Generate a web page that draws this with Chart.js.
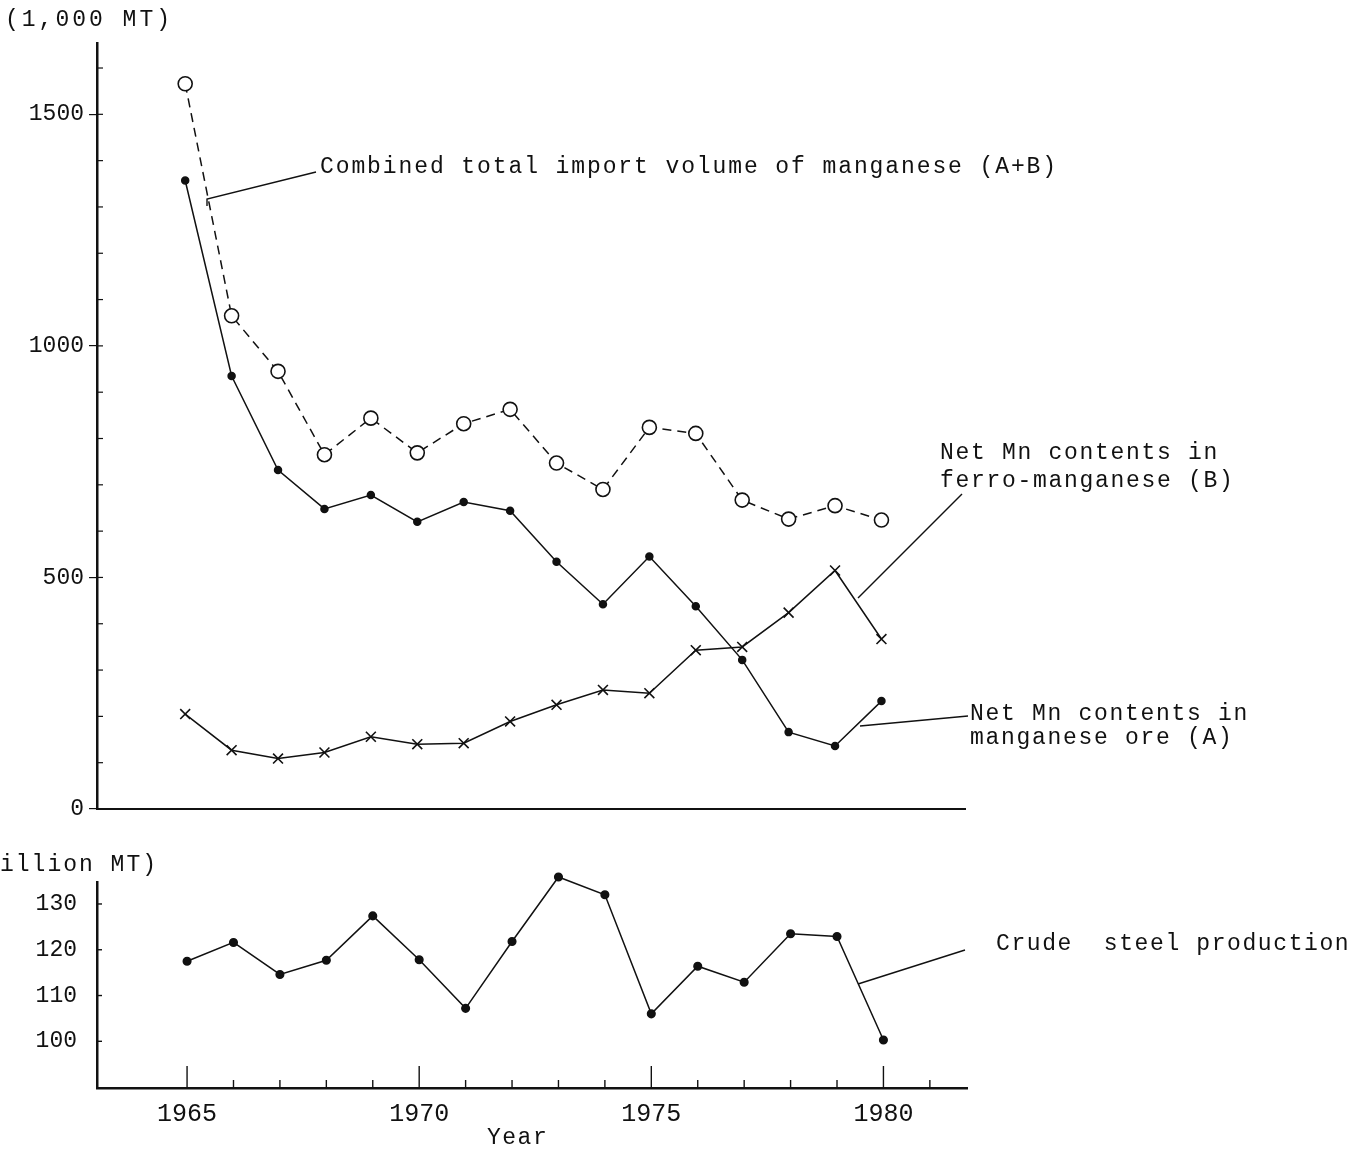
<!DOCTYPE html>
<html>
<head>
<meta charset="utf-8">
<script src="https://cdn.jsdelivr.net/npm/chart.js@4"></script>
<style>
  body { margin: 0; background: #fff; }
  #wrap { position: relative; width: 1358px; height: 1151px; }
  canvas { position: absolute; left: 0; }
  #top { top: 0; }
  #bottom { top: 840px; }
</style>
</head>
<body>
<div id="wrap">
  <canvas id="top" width="1358" height="840"></canvas>
  <canvas id="bottom" width="1358" height="311"></canvas>
</div>
<script>
const years = [1965, 1966, 1967, 1968, 1969, 1970, 1971, 1972, 1973, 1974, 1975, 1976, 1977, 1978, 1979, 1980];
// 1,000 MT
const combinedTotal = [1566, 1065, 945, 765, 844, 769, 832, 863, 747, 690, 824, 811, 667, 626, 655, 624];
const oreMn = [1357, 935, 732, 648, 678, 620, 663, 644, 534, 442, 545, 438, 322, 166, 136, 233];
const ferroMn = [205, 127, 109, 122, 156, 140, 142, 189, 225, 257, 250, 343, 350, 424, 515, 367];
// million MT
const crudeSteel = [117.5, 121.6, 114.6, 117.7, 127.4, 117.8, 107.2, 121.8, 135.9, 132.0, 106.0, 116.4, 112.9, 123.5, 122.9, 100.3];

const upperTicks = [0, 500, 1000, 1500];
const lowerTicks = [100, 110, 120, 130];
const yearTicks = [1965, 1970, 1975, 1980];

const INK = '#111';
const FONT = 'Liberation Mono';
const yTickFont = { family: FONT, size: 23 };
const xTickFont = { family: FONT, size: 25 };

function pts(vals) {
    return years.map((y, i) => ({ x: y, y: vals[i] }));
}

function note(ctx, text, x, y, spacing) {
    ctx.save();
    ctx.font = '23px "' + FONT + '"';
    ctx.fillStyle = INK;
    ctx.textBaseline = 'middle';
    ctx.textAlign = 'left';
    ctx.letterSpacing = (spacing === undefined ? 1.7 : spacing) + 'px';
    ctx.fillText(text, x, y);
    ctx.restore();
}

function leader(ctx, points) {
    ctx.save();
    ctx.strokeStyle = INK;
    ctx.lineWidth = 1.4;
    ctx.beginPath();
    ctx.moveTo(points[0][0], points[0][1]);
    for (let i = 1; i < points.length; i++) ctx.lineTo(points[i][0], points[i][1]);
    ctx.stroke();
    ctx.restore();
}

// upper panel: manganese imports
const upperDecor = {
    id: 'upperDecor',
    afterDraw(chart) {
        const ctx = chart.ctx;
        const ys = chart.scales.y;
        const left = chart.chartArea.left;
        ctx.save();
        ctx.strokeStyle = INK;
        ctx.lineWidth = 1.2;
        for (let v = 100; v <= 1600; v += 100) {
            const py = ys.getPixelForValue(v);
            ctx.beginPath();
            ctx.moveTo(left, py);
            ctx.lineTo(left + 6, py);
            ctx.stroke();
        }
        ctx.restore();

        note(ctx, '(1,000 MT)', 5, 20, 3);
        note(ctx, 'Combined total import volume of manganese (A+B)', 320, 167, 1.9);
        note(ctx, 'Net Mn contents in', 940, 453);
        note(ctx, 'ferro-manganese (B)', 940, 481);
        note(ctx, 'Net Mn contents in', 970, 714);
        note(ctx, 'manganese ore (A)', 970, 738);

        leader(ctx, [[207, 206], [207, 199], [316, 172]]);
        leader(ctx, [[858, 598], [962, 494]]);
        leader(ctx, [[860, 726], [968, 716]]);
    }
};

new Chart(document.getElementById('top'), {
    type: 'line',
    data: {
        datasets: [
            {
                label: 'Combined total import volume of manganese (A+B)',
                data: pts(combinedTotal),
                borderColor: INK,
                borderWidth: 1.5,
                borderDash: [9, 6],
                pointStyle: 'circle',
                pointRadius: 7,
                pointBackgroundColor: '#fff',
                pointBorderColor: INK,
                pointBorderWidth: 1.6
            },
            {
                label: 'Net Mn contents in manganese ore (A)',
                data: pts(oreMn),
                borderColor: INK,
                borderWidth: 1.5,
                pointStyle: 'circle',
                pointRadius: 3.5,
                pointBackgroundColor: INK,
                pointBorderColor: INK
            },
            {
                label: 'Net Mn contents in ferro-manganese (B)',
                data: pts(ferroMn),
                borderColor: INK,
                borderWidth: 1.5,
                pointStyle: 'crossRot',
                pointRadius: 7,
                pointBorderColor: INK,
                pointBorderWidth: 1.6
            }
        ]
    },
    options: {
        responsive: false,
        animation: false,
        layout: { padding: { left: 0, right: 393, top: 43, bottom: 0 } },
        plugins: { legend: { display: false }, tooltip: { enabled: false } },
        elements: { line: { tension: 0 } },
        scales: {
            x: {
                type: 'linear',
                min: 1963.1,
                max: 1981.8,
                grid: { display: false },
                ticks: { display: false },
                border: { color: INK, width: 2 },
                afterFit: s => { s.height = 31; }
            },
            y: {
                min: 0,
                max: 1654,
                afterBuildTicks: s => { s.ticks = upperTicks.map(v => ({ value: v })); },
                ticks: { color: INK, font: yTickFont, padding: 5, callback: v => String(v) },
                grid: { drawOnChartArea: false, color: INK, tickLength: 8, lineWidth: 1.2 },
                border: { color: INK, width: 2.5 },
                afterFit: s => { s.width = 97; }
            }
        }
    },
    plugins: [upperDecor]
});

// lower panel: crude steel
const lowerDecor = {
    id: 'lowerDecor',
    afterDraw(chart) {
        const ctx = chart.ctx;
        const xs = chart.scales.x;
        const ys = chart.scales.y;
        const { left, bottom } = chart.chartArea;
        ctx.save();
        ctx.strokeStyle = INK;
        ctx.lineWidth = 1.4;
        for (let yr = 1965; yr <= 1981; yr++) {
            const px = xs.getPixelForValue(yr);
            const len = yr % 5 === 0 ? 22 : 8;
            ctx.beginPath();
            ctx.moveTo(px, bottom);
            ctx.lineTo(px, bottom - len);
            ctx.stroke();
        }
        for (const v of lowerTicks) {
            const py = ys.getPixelForValue(v);
            ctx.beginPath();
            ctx.moveTo(left, py);
            ctx.lineTo(left + 5, py);
            ctx.stroke();
        }
        ctx.restore();

        note(ctx, 'illion MT)', 0, 25, 2);
        note(ctx, 'Crude  steel production', 996, 104, 1.6);
        note(ctx, 'Year', 487, 298, 1.5);
        leader(ctx, [[858, 144], [965, 110]]);
    }
};

new Chart(document.getElementById('bottom'), {
    type: 'line',
    data: {
        datasets: [
            {
                label: 'Crude steel production',
                data: pts(crudeSteel),
                borderColor: INK,
                borderWidth: 1.5,
                pointStyle: 'circle',
                pointRadius: 3.8,
                pointBackgroundColor: INK,
                pointBorderColor: INK,
                clip: false
            }
        ]
    },
    options: {
        responsive: false,
        animation: false,
        layout: { padding: { left: 0, right: 391, top: 42, bottom: 0 } },
        plugins: { legend: { display: false }, tooltip: { enabled: false } },
        elements: { line: { tension: 0 } },
        scales: {
            x: {
                type: 'linear',
                min: 1963.06,
                max: 1981.8,
                afterBuildTicks: s => { s.ticks = yearTicks.map(v => ({ value: v })); },
                ticks: { color: INK, font: xTickFont, padding: 3, maxRotation: 0, callback: v => String(v) },
                grid: { display: false },
                border: { color: INK, width: 2.5 },
                afterFit: s => { s.height = 63; }
            },
            y: {
                min: 89.8,
                max: 134.8,
                afterBuildTicks: s => { s.ticks = lowerTicks.map(v => ({ value: v })); },
                ticks: { color: INK, font: yTickFont, padding: 12, callback: v => String(v) },
                grid: { display: false },
                border: { color: INK, width: 2.5 },
                afterFit: s => { s.width = 97; }
            }
        }
    },
    plugins: [lowerDecor]
});
</script>
</body>
</html>
